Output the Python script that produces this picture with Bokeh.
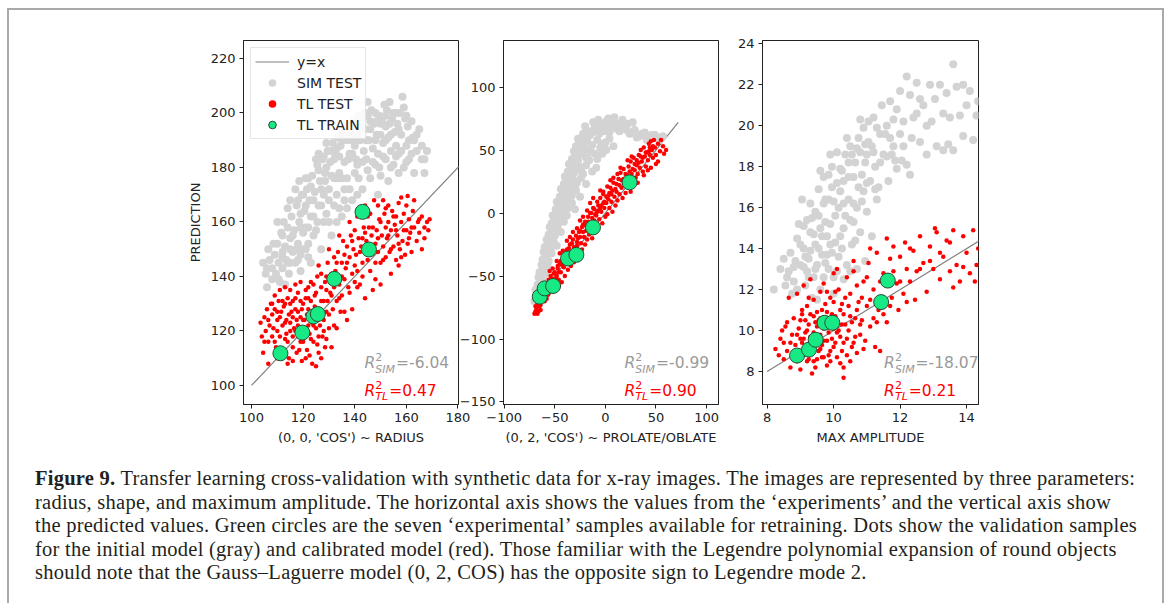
from bokeh.plotting import figure
from bokeh.layouts import row, column
from bokeh.models import Range1d, FixedTicker, Div
from bokeh.core.properties import value
from bokeh.embed import file_html
from bokeh.resources import INLINE

# ---------------- data ----------------
# Panel 1: (0, 0, 'COS') ~ RADIUS
p1_sim = [
    (104.5,145),(105.5,141),(106,136),(107,146),(106.5,150),(108,139),(108,143),
    (109,148),(109.5,141),(110,152),(110.5,145),(111,138),(111.5,156),(112,149),(112,143),(110,160),
    (113,151),(113.5,146),(114,158),(114.5,141),(115,154),(115.5,162),(116,149),(113,137),(114,165),
    (116.5,157),(117,145),(117.5,166),(118,152),(118.5,160),(119,148),(119.5,170),(120,156),(117,172),(119,163),
    (120.5,164),(121,150),(121.5,172),(122,158),(122.5,168),(123,145),(123.5,177),(124,162),(121,176),(124,155),
    (124.5,171),(125,157),(125.5,181),(126,166),(126.5,175),(127,150),(127.5,183),(128,170),(125,183),(128,160),
    (128.5,178),(129,163),(129.5,186),(130,172),(130.5,182),(131,155),(131.5,189),(132,176),(129,189),(132,166),
    (132.5,185),(133,170),(133.5,191),(134,178),(134.5,188),(135,162),(135.5,193),(136,182),(133,160),(136,172),
    (136.5,191),(137,176),(137.5,195),(138,185),(138.5,193),(139,168),(139.5,197),(140,188),(137,165),(140,178),
    (140.5,196),(141,181),(141.5,199),(142,190),(142.5,198),(143,172),(143.5,186),(144,194),(141,170),(144,200),
    (144.5,183),(145,199),(145.5,190),(146,176),(146.5,201),(147,187),(147.5,196),(148,181),(145,204),(148,200),
    (148.5,192),(149,185),(149.5,199),(150,177),(150.5,197),(151,189),(151.5,203),(152,183),(149,170),(152,195),
    (152.5,201),(153,191),(153.5,204),(154,186),(154.5,198),(155,181),(155.5,193),(156,200),(153,175),(156,188),
    (156.5,196),(157,185),(157.5,200),(158,192),(158.5,206),(159,180),(159.5,198),(160,188),(157,178),(160,199),
    (160.5,195),(161,183),(162,197),(162.5,191),(163,190),(164,186),(165,194),(166,188),(167,183),(168,186),(163,178),(167,178),
    (118,168),(121,166),(123,173),(126,179),(128,184),(131,186),(133,187),(135,176),(137,190),(139,185),
    (141,192),(143,195),(146,194),(148,190),(150,196),(152,199),(154,192),(127,166),(130,168),(134,184),
    (122,152),(119,158),(115,150),(112,155),
    (106,143),(108.5,152),(110.5,139),(112.5,160),(114,145),(115,168),(116,155),(117.5,150),(118.5,175),(119,142),
    (120,170),(121,158),(122,176),(123,162),(124,168),(125.5,160),(126,185),(127,172),(128.5,175),(129,180),
    (130,160),(131,177),(132,183),(133.5,176),(134,165),(135,190),(136,168),(137.5,183),(138,172),(139,190),
    (140.5,183),(141.5,176),(142,194),(143,182),(144.5,190),(145,179),(146,197),(147,182),(148.5,197),(149.5,180),
    (150,192),(151,184),(152,190),(153.5,196),(154,180),(155,200),(156,184),(157,194),(158,186),(159,202),
    (160,182),(161,190),(162,185),(164,192),(166,183),(112,147),(115,145),(118,146),(120,150),(122,147),
]
p1_tl = [
    (103.5,123),(104,118),(105,125),(105.5,120),(106,128),(106.5,116),(107,122),(107.5,130),(104.5,112),(108,118),(108,126),(106.5,108),
    (108.5,121),(109,128),(109.5,114),(110,124),(110.5,131),(111,118),(111.5,127),(112,112),(109,133),(112,122),(110,110),(111,135),
    (112.5,129),(113,117),(113.5,124),(114,132),(114.5,110),(115,120),(115.5,127),(116,114),(113,136),(116,131),(114,108),(115,123),
    (116.5,121),(117,128),(117.5,112),(118,134),(118.5,118),(119,125),(119.5,109),(120,130),(117,137),(120,116),(118,122),(119,131),
    (120.5,124),(121,135),(121.5,113),(122,128),(122.5,119),(123,138),(123.5,108),(124,126),(121,132),(124,116),(122,122),(123,131),
    (124.5,133),(125,121),(125.5,140),(126,112),(126.5,128),(127,136),(127.5,118),(128,131),(125,107),(128,124),(126,144),(127,110),
    (128.5,138),(129,127),(129.5,145),(130,121),(130.5,134),(131,141),(131.5,128),(132,147),(129,117),(132,136),(130,150),(131,114),
    (132.5,142),(133,131),(133.5,149),(134,137),(134.5,127),(135,145),(135.5,153),(136,139),(133,121),(136,148),(134,155),(135,133),
    (136.5,143),(137,151),(137.5,136),(138,147),(138.5,155),(139,141),(139.5,150),(140,138),(137,124),(140,157),(138,160),(139,128),
    (140.5,148),(141,142),(141.5,154),(142,137),(142.5,151),(143,145),(143.5,158),(144,149),(141,162),(144,132),(142,165),(143,154),
    (144.5,153),(145,146),(145.5,158),(146,142),(146.5,155),(147,149),(147.5,168),(148,152),(145,162),(148,145),(146,163),(147,135),
    (148.5,157),(149,149),(149.5,161),(150,145),(150.5,155),(151,151),(151.5,163),(152,147),(149,166),(152,158),(150,137),(151,168),
    (152.5,154),(153,160),(153.5,149),(154,157),(154.5,164),(155,151),(155.5,159),(156,146),(153,166),(156,162),(154,141),
    (156.5,155),(157,167),(157.5,150),(158,160),(158.5,153),(159,163),(159.5,148),(160,157),(157,144),(160,166),(158,169),
    (160.5,152),(161,161),(161.5,156),(162,149),(162.5,164),(163,158),(164,153),(164.5,160),(165,156),(166,162),(167,154),
    (168,160),(168.5,157),(169,161),(166,150),(163,168),(160.5,169.5),(144,166),
    (113.5,119),(114.5,126),(116,118),(117.5,124),(118.5,113),(119.5,128),(120.5,119),(121.5,126),(122.5,111),(123.5,123),
    (124.5,129),(125.5,115),(126.5,122),(127.5,127),(128.5,114),(129.5,131),(125,134),(122,136),(119,138),(116,125),
    (111,125),(113,130),(117,132),(124,137),(127,141),(130,139),(133,139),(129,135),
    (105,116),(106.5,124),(108,130),(109,116),(110,127),(111,112),(112,131),(113,123),(114,116),(115,130),
    (116,109),(117,120),(118,127),(119,116),(120,124),(121,110),(122,132),(123,117),(124,122),(125,128),
    (126,118),(127,131),(128,120),(129,140),(130,126),(131,133),(132,122),(133,145),(134,132),(135,140),
    (136,127),(137,145),(138,134),(139,153),(140,144),(141,136),(142,149),(143,140),(144,156),(145,151),
    (146,148),(147,158),(148,139),(149,154),(150,160),(151,146),(152,165),(153,155),(154,150),(155,162),
    (156,157),(157,152),(158,147),(159,157),(161,154),(162,158),(165,161),(167,158),(110,120),(115,135),
]
p1_train = [(111.2,111.8),(119.7,119.4),(124.0,125.3),(125.7,126.2),(132.1,139.1),(143.0,163.7),(145.5,149.9)]

# Panel 2: (0, 2, 'COS') ~ PROLATE/OBLATE
p2_sim = [
    (-70,-70),(-68,-66),(-66,-62),(-69,-61),(-65,-68),
    (-67,-57),(-64,-55),(-62,-52),(-66,-51),(-60,-58),(-63,-60),
    (-65,-47),(-62,-44),(-59,-48),(-63,-41),(-57,-42),(-60,-40),
    (-62,-37),(-59,-34),(-56,-38),(-61,-31),(-53,-32),(-57,-30),
    (-60,-27),(-57,-24),(-54,-28),(-58,-21),(-51,-23),(-55,-20),(-48,-26),
    (-56,-17),(-53,-14),(-50,-18),(-55,-11),(-47,-12),(-51,-10),(-44,-15),
    (-53,-8),(-50,-5),(-47,-9),(-52,-2),(-44,-4),(-48,0),(-41,-7),(-38,-2),
    (-49,3),(-46,6),(-43,2),(-48,9),(-40,7),(-44,10),(-37,4),(-33,8),(-30,3),
    (-45,13),(-42,16),(-39,12),(-44,19),(-36,17),(-40,20),(-33,14),(-29,18),(-25,13),
    (-41,23),(-38,26),(-35,22),(-40,29),(-32,27),(-36,30),(-28,24),(-24,28),(-19,23),
    (-37,33),(-34,36),(-31,32),(-36,39),(-28,37),(-32,40),(-24,34),(-19,38),(-13,33),(-9,36),
    (-33,43),(-30,46),(-27,42),(-31,49),(-23,47),(-27,50),(-19,44),(-14,48),(-8,43),(-3,47),(1,50),
    (-29,53),(-26,56),(-22,52),(-27,59),(-18,57),(-23,60),(-13,54),(-8,58),(-2,55),(4,59),(8,53),(-15,51),
    (-22,63),(-19,66),(-15,62),(-20,69),(-11,67),(-6,63),(-1,68),(4,64),(9,69),(14,65),(19,68),(24,63),
    (29,66),(34,61),(39,64),(44,60),(49,62),(54,58),(57,61),(41,58),(31,60),
    (-12,72),(-7,74),(-2,71),(3,75),(7,73),(12,71),(17,74),(22,71),(27,72),(1,73),(9,76),
    (-67,-64),(-64,-58),(-61,-49),(-60,-44),(-58,-37),(-56,-31),(-55,-25),(-52,-19),(-50,-13),(-49,-7),
    (-46,-1),(-45,4),(-42,9),(-41,14),(-38,19),(-37,24),(-34,29),(-33,34),(-30,39),(-29,44),
    (-26,47),(-24,53),(-21,58),(-17,61),(-13,64),(-9,69),(-5,66),(0,65),(5,70),(11,67),
    (16,69),(21,66),(26,64),(36,63),(46,62),(52,60),(-20,50),(-16,42),(-10,47),(-5,52),(0,56),(-26,37),(-22,31),(-30,20),(-35,12),
]
p2_tl = [
    (-70,-80),(-68,-76),(-67,-72),(-66,-78),(-65,-68),(-64,-73),(-63,-64),(-62,-69),(-61,-60),(-60,-66),(-69,-74),(-66,-63),(-62,-58),
    (-59,-62),(-58,-57),(-57,-65),(-56,-53),(-55,-60),(-54,-50),(-53,-56),(-52,-62),(-51,-48),(-50,-54),(-58,-68),(-55,-46),(-52,-44),
    (-49,-58),(-48,-50),(-47,-44),(-46,-53),(-45,-40),(-44,-47),(-43,-55),(-42,-36),(-41,-43),(-40,-50),(-48,-38),(-45,-32),(-42,-30),
    (-39,-40),(-38,-33),(-37,-45),(-36,-28),(-35,-37),(-34,-42),(-33,-24),(-32,-34),(-31,-39),(-30,-29),(-38,-22),(-35,-19),(-32,-15),
    (-29,-35),(-28,-26),(-27,-20),(-26,-31),(-25,-14),(-24,-24),(-23,-29),(-22,-9),(-21,-19),(-20,-25),(-28,-12),(-25,-6),(-22,-3),
    (-19,-14),(-18,-21),(-17,-7),(-16,-17),(-15,0),(-14,-11),(-13,-20),(-12,4),(-11,-6),(-10,-14),(-18,2),(-15,8),(-12,12),
    (-9,-2),(-8,-10),(-7,6),(-6,-5),(-5,12),(-4,1),(-3,-8),(-2,15),(-1,4),(0,-3),(-8,9),(-5,18),(-2,17),
    (1,8),(2,-1),(3,14),(4,4),(5,20),(6,9),(7,1),(8,24),(9,13),(10,6),(2,21),(5,26),(8,28),
    (11,17),(12,10),(13,27),(14,15),(15,32),(16,20),(17,12),(18,35),(19,24),(20,16),(12,31),(15,36),
    (21,28),(22,21),(23,37),(24,26),(25,41),(26,31),(27,23),(28,44),(29,34),(30,28),(22,42),(26,45),(25,17),
    (31,38),(32,31),(33,46),(34,36),(35,50),(36,41),(37,33),(38,52),(39,45),(40,37),(32,24),(38,30),
    (41,48),(42,42),(43,55),(44,46),(45,57),(46,50),(47,44),(48,58),(49,52),(50,46),(52,55),(54,49),(55,58),
    (57,53),(60,50),(58,47),(45,36),(52,41),(42,34),(50,39),
    (-67,-80),(-64,-77),(-60,-70),(-56,-64),(-53,-59),(-49,-52),(-46,-47),(-43,-41),(-40,-38),(-37,-35),
    (-34,-31),(-31,-27),(-28,-23),(-25,-19),(-22,-15),(-19,-10),(-16,-8),(-13,-4),(-10,-1),(-7,2),
    (-4,6),(-1,9),(3,11),(6,15),(10,19),(14,22),(18,27),(22,30),(27,35),(31,42),(35,45),(40,48),(44,52),
    (-69,-78),(-65,-74),(-62,-65),(-59,-60),(-56,-56),(-53,-52),(-50,-47),(-47,-42),(-44,-38),(-41,-34),
    (-38,-29),(-35,-25),(-32,-21),(-29,-18),(-26,-15),(-23,-11),(-20,-7),(-17,-3),(-14,0),(-11,3),
    (-8,1),(-5,4),(-2,8),(1,13),(4,16),(7,18),(11,23),(16,26),(20,31),(24,33),(29,39),(33,40),(37,44),(43,49),(47,53),
]
p2_train = [(-64.8,-66.4),(-59.9,-59.8),(-51.6,-57.9),(-36.8,-36.1),(-28.6,-33.2),(-12.2,-11.4),(24.0,24.4)]

# Panel 3: MAX AMPLITUDE
p3_sim = [
    (8.2,12.0),(8.5,13.5),(8.6,12.6),(8.4,13.0),
    (8.7,13.8),(8.8,12.4),(8.9,14.5),(9.0,13.2),(8.75,11.8),(8.95,15.2),(8.65,12.9),
    (9.1,14.0),(9.15,12.2),(9.2,15.4),(9.25,13.5),(9.3,16.2),(9.35,11.6),(9.4,14.7),(9.05,16.4),(9.2,12.9),(9.3,13.9),
    (9.45,15.8),(9.5,13.2),(9.55,16.9),(9.6,12.0),(9.65,14.6),(9.7,17.5),(9.75,15.3),(9.8,13.7),(9.5,11.5),(9.6,17.8),(9.7,12.6),(9.45,14.2),
    (9.85,16.4),(9.9,14.2),(9.95,18.0),(10.0,12.6),(10.05,15.6),(10.1,17.2),(10.15,13.6),(10.2,16.8),(9.9,18.6),(10.0,11.8),(10.1,18.7),(9.85,13.0),
    (10.25,17.8),(10.3,15.0),(10.35,18.6),(10.4,13.2),(10.45,16.4),(10.5,19.0),(10.55,14.2),(10.6,17.5),(10.3,12.5),(10.4,19.4),(10.5,12.9),
    (10.65,18.2),(10.7,16.0),(10.75,19.4),(10.8,14.8),(10.85,17.6),(10.9,19.9),(10.95,13.4),(11.0,18.6),(10.7,13.0),(10.8,20.3),(11.0,15.8),
    (11.05,19.2),(11.1,17.3),(11.2,20.4),(11.25,18.0),(11.3,16.4),(11.4,19.6),(11.45,21.0),(11.5,18.6),(11.15,14.6),(11.35,17.0),
    (11.6,20.0),(11.65,17.3),(11.7,21.2),(11.8,19.0),(11.85,18.3),(11.9,20.8),(12.0,19.6),(11.75,18.6),(12.0,21.7),
    (12.1,20.2),(12.2,18.1),(12.3,21.5),(12.35,19.4),(12.5,22.1),(12.5,20.6),(12.6,19.2),(12.7,21.0),(12.8,18.6),(12.9,22.0),(12.95,20.2),(12.3,17.6),(12.2,22.4),
    (13.05,21.3),(13.1,19.0),(13.2,22.0),(13.3,18.8),(13.4,21.6),(13.5,20.4),(13.6,23.0),(13.6,18.8),(13.7,21.9),(13.8,20.5),(13.9,19.5),(14.0,21.0),
    (14.1,21.7),(14.2,19.3),(14.3,20.5),(13.45,19.1),(14.35,21.2),
    (9.3,14.8),(9.55,15.6),(9.75,16.4),(9.95,17.0),(10.2,17.9),(10.45,18.2),(10.7,18.9),(10.95,19.1),(9.9,15.2),(10.3,16.2),
    (9.1,13.1),(8.85,13.4),(10.6,15.3),(10.85,16.3),(11.2,18.7),(9.65,13.7),(9.4,12.6),(10.2,14.6),
    (8.55,12.2),(8.8,13.1),(8.9,12.0),(9.0,14.2),(9.1,15.1),(9.15,13.6),(9.25,12.6),(9.35,15.5),(9.45,13.0),(9.55,14.0),
    (9.6,15.0),(9.7,16.2),(9.75,13.3),(9.8,14.6),(9.85,17.6),(9.95,13.8),(10.0,16.3),(10.05,14.3),(10.1,12.9),(10.15,16.0),
    (10.25,14.0),(10.3,17.3),(10.35,15.6),(10.45,17.5),(10.5,15.4),(10.55,18.6),(10.6,16.2),(10.65,14.4),(10.75,17.0),(10.8,18.7),
    (10.9,16.8),(10.95,18.2),(11.0,17.2),(11.05,20.2),(11.15,19.0),(11.25,16.9),(11.3,19.9),(11.4,18.2),(11.55,19.6),(11.6,18.5),
    (11.7,19.4),(11.8,20.3),(11.9,17.9),(12.1,19.0),(12.4,20.4),(12.6,21.3),(12.8,20.0),(13.3,20.6),(13.9,22.0),(12.05,18.3),
]
p3_tl = [
    (8.25,9.1),(8.4,9.6),(8.5,8.6),(8.55,10.2),(8.6,9.0),(8.7,8.2),(8.75,9.8),(8.8,10.6),(8.35,8.8),(8.65,11.6),(8.45,10.0),
    (8.85,9.3),(8.9,8.5),(8.95,10.1),(9.0,9.6),(9.05,11.0),(9.1,8.8),(9.15,10.5),(9.2,9.2),(8.9,11.8),(9.0,8.1),(9.1,12.2),(9.2,10.0),
    (9.25,8.6),(9.3,10.8),(9.35,9.5),(9.4,11.5),(9.45,8.2),(9.5,10.2),(9.55,9.0),(9.6,11.9),(9.3,12.5),(9.4,9.9),(9.5,8.6),(9.6,10.6),(9.35,7.9),
    (9.65,9.3),(9.7,12.3),(10.3,7.7),(9.8,10.9),(9.85,8.8),(9.9,11.6),(9.95,9.6),(10.0,12.8),(9.7,10.1),(9.8,8.3),(9.9,10.4),(10.0,9.2),(9.75,11.3),
    (10.05,10.7),(10.1,8.7),(10.15,12.0),(10.2,9.7),(10.25,11.3),(10.3,8.2),(10.35,10.3),(10.4,12.6),(10.1,13.0),(10.2,11.0),(10.3,9.4),(10.4,8.8),
    (10.45,10.0),(10.5,11.8),(10.55,9.2),(10.6,12.9),(10.65,10.6),(10.7,8.9),(10.75,11.4),(10.8,9.8),(10.5,8.5),(10.6,13.4),(10.7,12.2),
    (10.85,10.5),(10.9,12.4),(10.95,9.5),(11.0,11.2),(11.05,13.3),(11.1,10.2),(11.2,12.0),(11.25,9.2),(11.3,13.8),(11.35,11.0),(11.4,9.0),(11.1,14.0),(11.2,10.6),
    (11.5,12.8),(11.6,10.4),(11.7,13.5),(11.75,11.6),(11.8,14.1),(11.9,12.3),(12.0,13.6),(12.1,11.8),(11.6,14.5),(12.2,13.0),(11.95,11.0),(12.15,14.3),
    (12.3,12.4),(12.4,13.9),(12.5,12.9),(12.6,14.6),(12.7,13.3),(12.8,11.9),(12.9,14.1),(13.0,13.0),(13.1,14.8),(13.2,12.5),(12.45,11.5),(13.05,15.0),
    (13.3,13.6),(13.4,14.4),(13.5,12.9),(13.6,14.9),(13.7,13.2),(13.8,12.4),(13.9,14.6),(14.0,13.8),(14.1,12.8),(14.2,14.9),(14.3,13.2),(14.35,14.0),(13.6,12.1),(14.25,12.4),
    (9.05,9.4),(9.15,9.9),(9.25,10.3),(9.35,8.9),(9.45,9.7),(9.55,10.5),(9.65,8.7),(9.7,9.5),(9.85,9.9),(9.95,10.8),(10.05,9.4),(10.15,10.0),
    (10.25,9.0),(9.5,9.3),(9.6,9.8),(9.4,10.7),(9.2,11.2),(9.8,11.9),(10.35,11.6),(10.55,10.4),(8.95,9.0),(9.3,9.0),(9.9,9.0),(10.0,10.1),
    (8.5,9.4),(8.6,10.4),(8.7,9.4),(8.8,8.8),(8.9,9.8),(9.0,10.5),(9.1,9.6),(9.2,8.5),(9.3,9.7),(9.4,8.5),
    (9.5,10.9),(9.6,9.1),(9.7,8.7),(9.8,9.5),(9.9,8.5),(10.0,11.4),(10.1,9.9),(10.2,8.4),(10.3,10.8),(10.4,9.6),
    (10.5,10.7),(10.6,9.4),(10.7,11.0),(10.8,10.3),(10.9,9.1),(11.0,12.6),(11.1,11.5),(11.3,10.4),(11.4,12.4),(11.5,10.8),
    (11.7,11.2),(11.8,12.9),(12.0,12.4),(12.2,11.4),(12.3,14.0),(12.6,13.0),(12.9,13.4),(13.2,13.8),(13.5,14.3),(13.9,13.1),
    (9.05,10.8),(9.25,11.6),(9.45,10.4),(9.65,11.0),(9.85,10.2),(10.05,11.9),(10.25,10.3),(10.45,11.2),(10.65,9.7),(10.85,11.6),
]
p3_train = [(8.90,8.78),(9.26,9.07),(9.46,9.55),(9.73,10.38),(9.96,10.38),(11.43,11.39),(11.63,12.44)]

# axes
x_labels = ["(0, 0, 'COS') ~ RADIUS", "(0, 2, 'COS') ~ PROLATE/OBLATE", "MAX AMPLITUDE"]
y_label = "PREDICTION"
x_ticks = [[100, 120, 140, 160, 180], [-100, -50, 0, 50, 100], [8, 10, 12, 14]]
y_ticks = [[100, 120, 140, 160, 180, 200, 220], [-150, -100, -50, 0, 50, 100], [8, 10, 12, 14, 16, 18, 20, 22, 24]]
x_lims = [(96.9, 180.2), (-100.6, 111.8), (7.86, 14.36)]
y_lims = [(93.0, 226.6), (-152.0, 137.0), (6.39, 24.16)]
diag_ends = [(100, 182), (-70, 72), (8, 14.6)]
r2_sim = [-6.04, -0.99, -18.07]
r2_tl = [0.47, 0.90, 0.21]
legend_labels = ["y=x", "SIM TEST", "TL TEST", "TL TRAIN"]

caption_lines = [
    "<b>Figure 9.</b> Transfer learning cross-validation with synthetic data for x-ray images. The images are represented by three parameters:",
    "radius, shape, and maximum amplitude. The horizontal axis shows the values from the \u2018experiments\u2019 and the vertical axis show",
    "the predicted values. Green circles are the seven \u2018experimental\u2019 samples available for retraining. Dots show the validation samples",
    "for the initial model (gray) and calibrated model (red). Those familiar with the Legendre polynomial expansion of round objects",
    "should note that the Gauss\u2013Laguerre model (0, 2, COS) has the opposite sign to Legendre mode 2.",
]

# ---------------- styling ----------------
FONT = "DejaVu Sans"
GRAY = "#d3d3d3"
RED = "#ff0000"
GREEN = "#17ea85"
TXT = "#222222"

panel_geo = [  # (min_border_left, frame_width, min_border_right, margin)
    (234, 215, 20, (0, 0, 0, 0)),
    (53, 215, 22, (0, 0, 0, -28)),
    (34, 216, 184, (0, 0, 0, -12)),
]

def unzip(pts):
    return [p[0] for p in pts], [p[1] for p in pts]

def fmt_minus(ticks):
    return {t: ("\u2212" + str(abs(t))) for t in ticks if t < 0}

def r2_label(p, x0, y0, sub, val, color):
    common = dict(text_font=value(FONT), text_color=color, text_baseline="middle", text_align="left")
    p.text(x=[x0], y=[y0], text=["R"], text_font_size="15.5px", text_font_style="italic", **common)
    p.text(x=[x0], y=[y0], text=["2"], x_offset=10.8, y_offset=-6, text_font_size="11px", **common)
    p.text(x=[x0], y=[y0], text=[sub], x_offset=10.8, y_offset=6, text_font_size="11px", text_font_style="italic", **common)
    subw = {"SIM": 20.2, "TL": 13.3}[sub]
    p.text(x=[x0], y=[y0], text=["=%.2f" % val], x_offset=10.8 + subw + 0.5, text_font_size="15.5px", **common)

sims = [p1_sim, p2_sim, p3_sim]
tls = [p1_tl, p2_tl, p3_tl]
trains = [p1_train, p2_train, p3_train]

figs = []
for i in range(3):
    bl, fw, br, mg = panel_geo[i]
    p = figure(x_range=Range1d(*x_lims[i]), y_range=Range1d(*y_lims[i]),
               frame_width=fw, frame_height=364,
               min_border_left=bl, min_border_right=br, min_border_top=30, min_border_bottom=51,
               output_backend="svg", toolbar_location=None, margin=mg)
    p.border_fill_alpha = 0
    p.background_fill_color = "white"
    p.xgrid.visible = False
    p.ygrid.visible = False
    p.outline_line_color = TXT
    p.outline_line_width = 1
    p.outline_line_alpha = 1

    for ax, ticks in ((p.xaxis[0], x_ticks[i]), (p.yaxis[0], y_ticks[i])):
        ax.ticker = FixedTicker(ticks=ticks)
        ax.major_label_overrides = fmt_minus(ticks)
        ax.minor_tick_line_color = None
        ax.major_tick_in = 0
        ax.major_tick_out = 4
        ax.major_tick_line_color = TXT
        ax.axis_line_color = TXT
        ax.major_label_text_font = FONT
        ax.major_label_text_font_size = "13px"
        ax.major_label_text_color = TXT
        ax.major_label_standoff = 4
        ax.axis_label_text_font = FONT
        ax.axis_label_text_font_size = "13px"
        ax.axis_label_text_font_style = "normal"
        ax.axis_label_text_color = TXT
        ax.axis_label_standoff = 5
    p.xaxis.axis_label = x_labels[i]
    if i == 0:
        p.yaxis.axis_label = y_label

    lo, hi = diag_ends[i]
    sx, sy = unzip(sims[i])
    tx, ty = unzip(tls[i])
    gx, gy = unzip(trains[i])
    leg = (lambda k: {"legend_label": legend_labels[k]}) if i == 0 else (lambda k: {})
    p.line([lo, hi], [lo, hi], line_color="#808080", line_width=1.2, **leg(0))
    p.scatter(sx, sy, size=8, fill_color=GRAY, line_color=None, **leg(1))
    p.scatter(tx, ty, size=4.5, fill_color=RED, line_color=None, **leg(2))
    p.scatter(gx, gy, size=15, fill_color=GREEN, line_color="#2a4a35", line_width=1, **leg(3))

    x0 = x_lims[i][0] + 0.563 * (x_lims[i][1] - x_lims[i][0])
    y_sim = y_lims[i][0] + 0.113 * (y_lims[i][1] - y_lims[i][0])
    y_tl = y_lims[i][0] + 0.038 * (y_lims[i][1] - y_lims[i][0])
    r2_label(p, x0, y_sim, "SIM", r2_sim[i], "#9a9a9a")
    r2_label(p, x0, y_tl, "TL", r2_tl[i], RED)

    if i == 0:
        lg = p.legend[0]
        lg.location = "top_left"
        lg.margin = 7
        lg.padding = 4
        lg.spacing = 2
        lg.label_height = 19
        lg.glyph_height = 19
        lg.glyph_width = 34
        lg.label_standoff = 8
        lg.label_text_font = FONT
        lg.label_text_font_size = "14px"
        lg.label_text_color = TXT
        lg.border_line_color = "#cccccc"
        lg.background_fill_alpha = 0.85
    figs.append(p)

cap_html = ('<div style="font-family:\'Liberation Serif\',serif;font-size:20.5px;letter-spacing:0.25px;'
            'line-height:23.5px;color:#231f20;white-space:nowrap;">' + "<br>".join(caption_lines) + "</div>")
caption = Div(text=cap_html, width=1127, height=136, margin=(12, 0, 0, 26))

layout = column(row(*figs), caption, margin=(8, 0, 0, 7),
                styles={"border-top": "2px solid #a9a9a9", "border-left": "2px solid #a9a9a9",
                        "border-right": "2px solid #a9a9a9", "background": "white"})

open("out.html", "w").write(file_html(layout, INLINE))
